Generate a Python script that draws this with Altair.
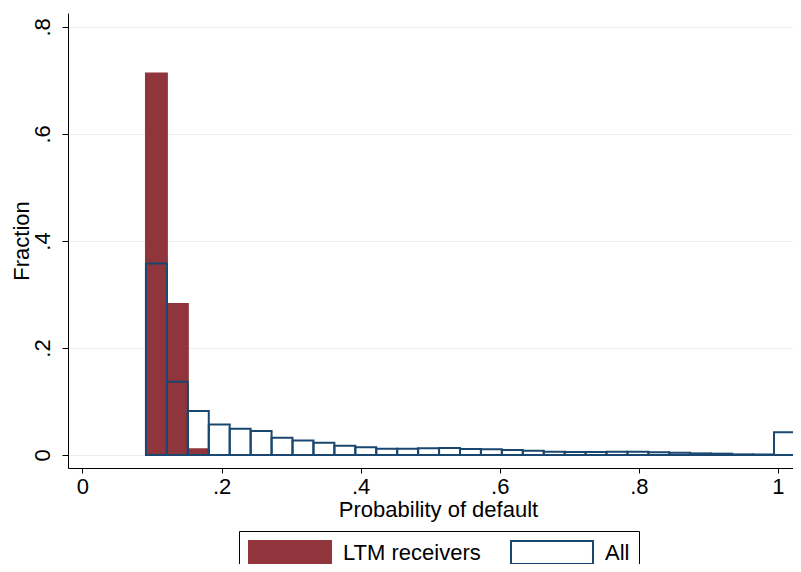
import altair as alt
import pandas as pd

# Histogram bins (left edge of first bin and common width)
bin_start = 0.0913
bin_width = 0.0301

series_names = ["LTM receivers", "All"]
ltm_frac = [0.713, 0.282, 0.0106]
all_frac = [0.358, 0.137, 0.082, 0.057, 0.049, 0.045, 0.032, 0.027, 0.023,
            0.0175, 0.0144, 0.0118, 0.0118, 0.0125, 0.013, 0.011, 0.0106,
            0.0093, 0.008, 0.0062, 0.0056, 0.0056, 0.006, 0.0062, 0.005,
            0.0044, 0.003, 0.0025, 0.0012, 0.001, 0.0424]
x_ticks = [0, 0.2, 0.4, 0.6, 0.8, 1]
y_ticks = [0, 0.2, 0.4, 0.6, 0.8]

rows = []
for name, vals in [(series_names[0], ltm_frac), (series_names[1], all_frac)]:
    for i, v in enumerate(vals):
        rows.append({"series": name,
                     "x0": bin_start + i * bin_width,
                     "x1": bin_start + (i + 1) * bin_width,
                     "frac": v, "base": 0.0})
df = pd.DataFrame(rows)

FONT = "Liberation Sans"
FS = 22

legend = alt.Legend(
    title=None, orient="none", legendX=171, legendY=518,
    direction="horizontal",
    symbolType="M-1,-1H6.13V1H-1Z", symbolSize=529, symbolStrokeWidth=2,
    labelOffset=70, columnPadding=26, padding=9,
    strokeColor="black", labelFontSize=FS, labelFont=FONT, labelColor="black",
)

chart = alt.Chart(df).mark_rect(strokeWidth=2, strokeJoin="miter").encode(
    x=alt.X("x0:Q",
            scale=alt.Scale(domain=[-0.0208, 1.0216], nice=False, zero=False),
            axis=alt.Axis(values=x_ticks,
                          labelExpr="datum.value == 0 ? '0' : datum.value == 1 ? '1' : '.' + format(datum.value*10, 'd')",
                          tickSize=5, labelPadding=3, grid=False,
                          labelFlush=False, labelOverlap=False,
                          titleX=370, titleY=31, titleBaseline="top", titleAlign="center"),
            title="Probability of default"),
    x2="x1:Q",
    y=alt.Y("frac:Q",
            scale=alt.Scale(domain=[-0.0243, 0.826], nice=False, zero=False),
            axis=alt.Axis(values=y_ticks,
                          labelExpr="datum.value == 0 ? '0' : '.' + format(datum.value*10, 'd')",
                          labelAngle=270, labelAlign="center", labelBaseline="bottom",
                          tickSize=6, labelPadding=8, grid=True,
                          gridColor="#e8eff0", gridWidth=1,
                          titleAngle=270, titleX=-35, titleY=227.5,
                          titleBaseline="bottom", titleAlign="center"),
            title="Fraction"),
    y2="base:Q",
    fill=alt.Fill("series:N",
                  scale=alt.Scale(domain=series_names, range=["#90353b", "transparent"]),
                  legend=legend),
    stroke=alt.Stroke("series:N",
                      scale=alt.Scale(domain=series_names, range=["#90353b", "#1a476f"]),
                      legend=legend),
).properties(
    width=725, height=455,
    autosize=alt.AutoSizeParams(type="none"),
    padding={"left": 60, "top": 5, "right": 0, "bottom": 96},
    background="white",
).configure_axis(
    domainColor="black", tickColor="black", labelColor="black", titleColor="black",
    labelFont=FONT, titleFont=FONT, labelFontSize=FS, titleFontSize=FS,
    titleFontWeight="normal", domainWidth=1, tickWidth=1,
).configure_view(stroke="transparent")

chart.save("out.html", embed_options={"renderer": "svg", "actions": False})
